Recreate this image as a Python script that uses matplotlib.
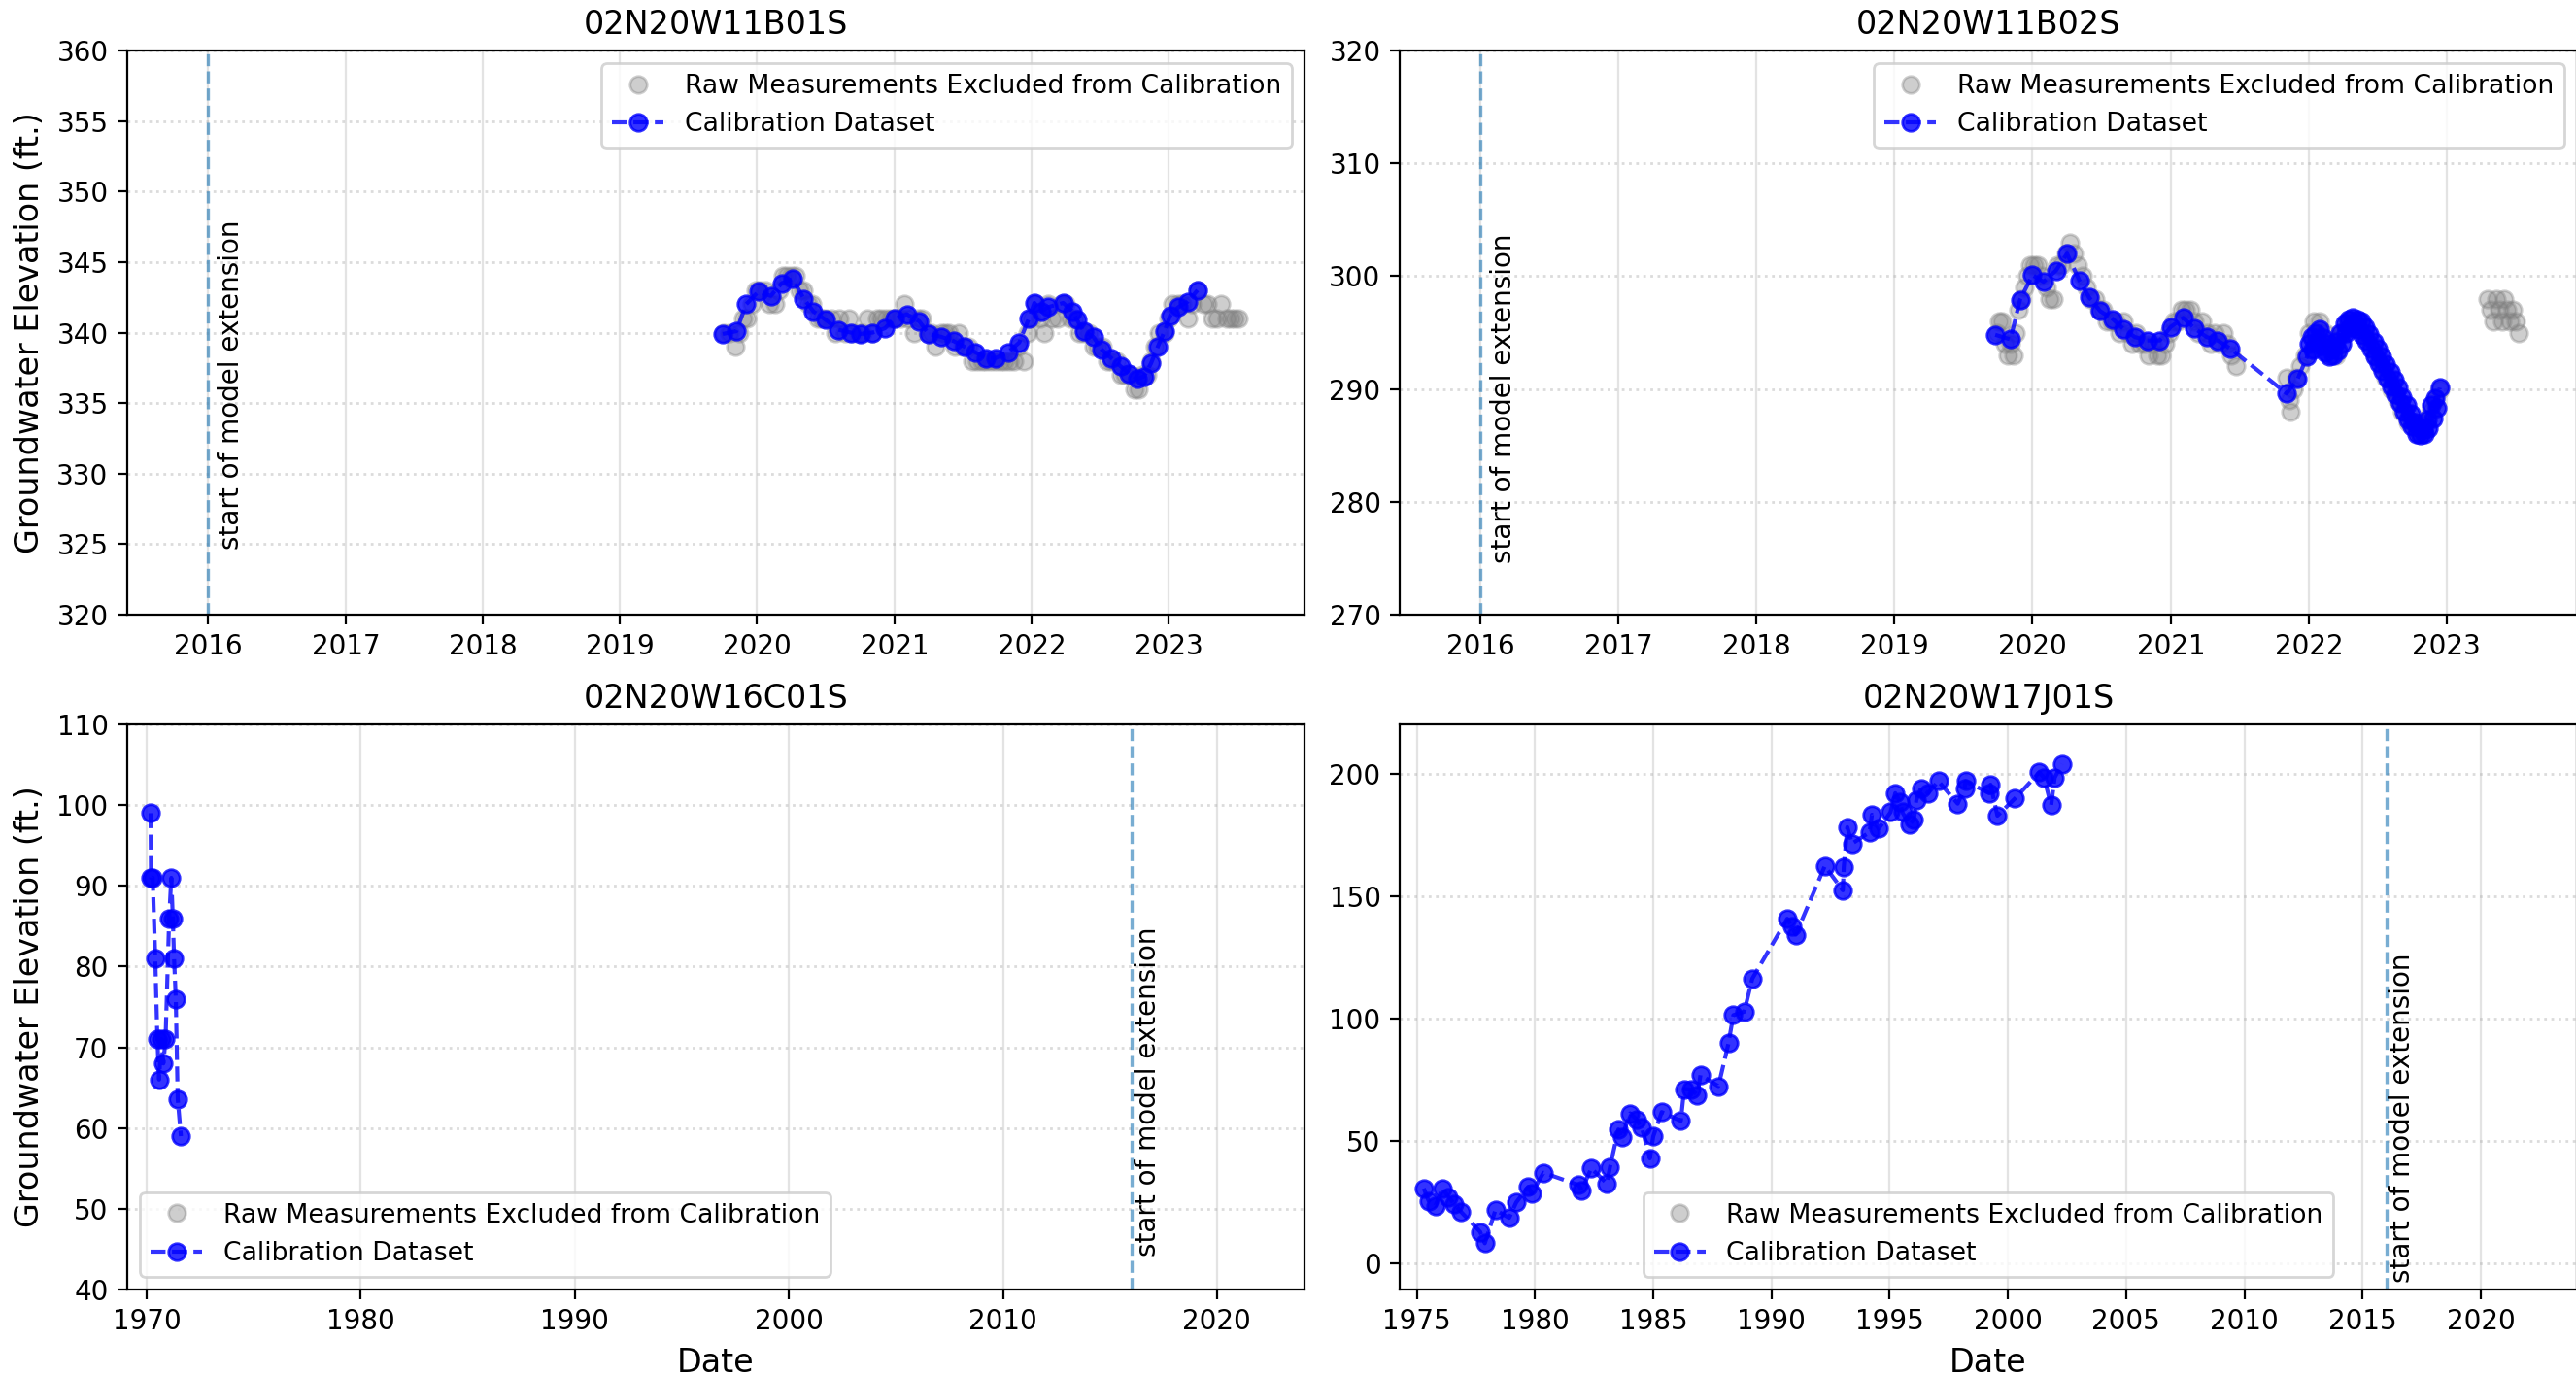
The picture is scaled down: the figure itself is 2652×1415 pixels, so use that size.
import matplotlib
matplotlib.use("Agg")
import matplotlib.pyplot as plt
import matplotlib.dates as mdates
from datetime import datetime, timedelta

# ---------------- data (decimal years / feet) ----------------
titles = ["02N20W11B01S", "02N20W11B02S", "02N20W16C01S", "02N20W17J01S"]
model_start = 2016.0

# 02N20W11B01S
b01_cal_t = [2019.75, 2019.85, 2019.92, 2020.01, 2020.10, 2020.18, 2020.26, 2020.34, 2020.41, 2020.50,
             2020.59, 2020.68, 2020.75, 2020.84, 2020.93, 2021.00, 2021.09, 2021.18, 2021.25, 2021.34,
             2021.43, 2021.51, 2021.59, 2021.67, 2021.74, 2021.83, 2021.91, 2021.98, 2022.02, 2022.07,
             2022.12, 2022.23, 2022.30, 2022.33, 2022.38, 2022.45, 2022.51, 2022.58, 2022.65, 2022.71,
             2022.77, 2022.82, 2022.87, 2022.92, 2022.97, 2023.01, 2023.07, 2023.14, 2023.21]
b01_cal_v = [339.9, 340.1, 342.0, 342.9, 342.6, 343.5, 343.8, 342.4, 341.5, 340.9,
             340.2, 340.0, 339.9, 340.0, 340.3, 341.0, 341.3, 340.8, 339.9, 339.7,
             339.4, 339.0, 338.6, 338.2, 338.2, 338.6, 339.3, 341.0, 342.1, 341.5,
             341.8, 342.1, 341.5, 340.9, 340.1, 339.7, 338.8, 338.2, 337.6, 337.1,
             336.7, 336.9, 337.8, 339.0, 340.1, 341.2, 341.8, 342.2, 343.0]
b01_raw_t = [2019.76, 2019.80, 2019.84, 2019.87, 2019.90, 2019.93, 2019.96, 2019.99, 2020.02, 2020.06,
             2020.09, 2020.13, 2020.16, 2020.19, 2020.22, 2020.25, 2020.28, 2020.31, 2020.34, 2020.37,
             2020.40, 2020.44, 2020.47, 2020.50, 2020.54, 2020.57, 2020.60, 2020.64, 2020.67, 2020.70,
             2020.74, 2020.77, 2020.80, 2020.84, 2020.87, 2020.90, 2020.94, 2020.97, 2021.00, 2021.04,
             2021.07, 2021.10, 2021.14, 2021.17, 2021.20, 2021.24, 2021.27, 2021.30, 2021.34, 2021.37,
             2021.40, 2021.44, 2021.47, 2021.50, 2021.54, 2021.57, 2021.60, 2021.64, 2021.67, 2021.70,
             2021.74, 2021.77, 2021.80, 2021.84, 2021.87, 2021.90, 2021.94, 2021.97, 2022.00, 2022.03,
             2022.06, 2022.09, 2022.12, 2022.15, 2022.19, 2022.22, 2022.25, 2022.28, 2022.31, 2022.35,
             2022.38, 2022.42, 2022.45, 2022.48, 2022.52, 2022.55, 2022.58, 2022.62, 2022.65, 2022.68,
             2022.72, 2022.75, 2022.78, 2022.81, 2022.84, 2022.87, 2022.90, 2022.93, 2022.97, 2023.00,
             2023.03, 2023.07, 2023.10, 2023.14, 2023.17, 2023.21, 2023.25, 2023.28, 2023.32, 2023.35,
             2023.38, 2023.42, 2023.45, 2023.48, 2023.51]
b01_raw_v = [340, 340, 339, 340, 341, 341, 342, 343, 343, 343,
             342, 342, 343, 344, 344, 344, 344, 343, 343, 342,
             342, 341, 341, 341, 341, 340, 341, 340, 341, 340,
             340, 340, 341, 340, 341, 341, 341, 341, 341, 341,
             342, 341, 340, 341, 341, 340, 340, 339, 340, 340,
             340, 339, 340, 339, 339, 338, 338, 338, 338, 338,
             338, 338, 338, 338, 338, 339, 338, 340, 341, 342,
             341, 340, 342, 341, 341, 342, 342, 341, 341, 340,
             340, 340, 339, 339, 339, 338, 338, 338, 337, 337,
             337, 336, 336, 337, 337, 338, 339, 340, 340, 341,
             342, 342, 342, 341, 342, 343, 342, 342, 341, 341,
             342, 341, 341, 341, 341]

# 02N20W11B02S
b02_cal_t = [2019.73, 2019.84, 2019.91, 2020.00, 2020.08, 2020.17, 2020.25, 2020.34, 2020.41, 2020.49,
             2020.58, 2020.66, 2020.74, 2020.83, 2020.92, 2021.00, 2021.09, 2021.17, 2021.26, 2021.34,
             2021.43, 2021.84, 2021.92, 2021.99, 2022.00, 2022.02, 2022.03, 2022.05, 2022.06, 2022.08,
             2022.09, 2022.11, 2022.12, 2022.14, 2022.15, 2022.17, 2022.18, 2022.20, 2022.21, 2022.23,
             2022.24, 2022.26, 2022.27, 2022.29, 2022.30, 2022.32, 2022.33, 2022.35, 2022.36, 2022.38,
             2022.39, 2022.41, 2022.42, 2022.44, 2022.45, 2022.47, 2022.48, 2022.50, 2022.51, 2022.53,
             2022.54, 2022.56, 2022.57, 2022.59, 2022.60, 2022.62, 2022.63, 2022.65, 2022.66, 2022.68,
             2022.69, 2022.71, 2022.72, 2022.74, 2022.75, 2022.77, 2022.78, 2022.80, 2022.81, 2022.83,
             2022.84, 2022.86, 2022.87, 2022.89, 2022.90, 2022.92, 2022.93, 2022.95]
b02_cal_v = [294.8, 294.4, 297.9, 300.1, 299.5, 300.5, 302.0, 299.6, 298.1, 296.9,
             296.2, 295.3, 294.6, 294.3, 294.3, 295.5, 296.3, 295.4, 294.6, 294.3,
             293.6, 289.6, 290.9, 292.9, 294.0, 294.6, 293.5, 295.0, 294.2, 295.3,
             293.8, 294.5, 293.2, 294.0, 292.9, 293.6, 293.0, 294.2, 293.4, 295.0,
             294.0, 295.8, 295.0, 296.2, 295.4, 296.3, 295.6, 296.2, 295.3, 296.0,
             294.8, 295.5, 294.3, 294.9, 293.6, 294.2, 292.9, 293.6, 292.3, 292.9,
             291.6, 292.2, 290.9, 291.5, 290.2, 290.8, 289.5, 290.1, 288.8, 289.3,
             288.0, 288.6, 287.3, 287.8, 286.7, 287.0, 286.0, 286.6, 285.9, 286.4,
             286.0, 287.3, 286.5, 288.6, 287.4, 289.2, 288.3, 290.1]
b02_raw_t = [2019.74, 2019.76, 2019.78, 2019.80, 2019.82, 2019.84, 2019.86, 2019.88, 2019.90, 2019.92,
             2019.94, 2019.96, 2019.98, 2020.01, 2020.04, 2020.07, 2020.10, 2020.12, 2020.15, 2020.18,
             2020.21, 2020.24, 2020.27, 2020.30, 2020.33, 2020.36, 2020.39, 2020.42, 2020.45, 2020.48,
             2020.51, 2020.54, 2020.57, 2020.60, 2020.63, 2020.66, 2020.69, 2020.72, 2020.75, 2020.78,
             2020.81, 2020.84, 2020.87, 2020.90, 2020.93, 2020.96, 2020.99, 2021.02, 2021.05, 2021.08,
             2021.11, 2021.14, 2021.17, 2021.20, 2021.23, 2021.26, 2021.29, 2021.32, 2021.35, 2021.38,
             2021.41, 2021.44, 2021.47, 2021.84, 2021.86, 2021.87, 2021.89, 2021.91, 2021.94, 2021.97,
             2022.00, 2022.04, 2022.08, 2022.12, 2022.16, 2022.20, 2022.24, 2022.28, 2022.32, 2022.36,
             2022.40, 2022.44, 2022.48, 2022.52, 2022.56, 2022.60, 2022.64, 2022.68, 2022.72, 2022.76,
             2022.80, 2022.84, 2022.88, 2022.92, 2022.95, 2023.30, 2023.32, 2023.34, 2023.36, 2023.38,
             2023.40, 2023.42, 2023.44, 2023.46, 2023.48, 2023.50, 2023.52]
b02_raw_v = [295, 296, 296, 294, 293, 294, 293, 295, 297, 298,
             299, 300, 301, 301, 301, 300, 299, 298, 298, 301,
             301, 302, 303, 302, 301, 300, 299, 298, 298, 297,
             297, 296, 296, 296, 295, 296, 295, 294, 295, 294,
             294, 293, 294, 293, 293, 294, 295, 296, 296, 297,
             297, 297, 296, 295, 296, 295, 294, 295, 294, 295,
             294, 293, 292, 291, 289, 288, 290, 291, 292, 293,
             295, 296, 296, 295, 294, 293, 295, 296, 296, 296,
             295, 294, 293, 292, 291, 290, 289, 288, 287, 287,
             286, 287, 288, 289, 290, 298, 297, 296, 298, 297,
             296, 298, 297, 296, 297, 296, 295]

# 02N20W16C01S
c01_cal_t = [1970.18, 1970.20, 1970.28, 1970.40, 1970.50, 1970.58, 1970.68, 1970.78, 1970.88, 1971.05,
             1971.15, 1971.22, 1971.28, 1971.36, 1971.45, 1971.60]
c01_cal_v = [99.0, 91.0, 91.0, 81.0, 71.0, 66.0, 71.0, 68.0, 71.0, 86.0,
             91.0, 86.0, 81.0, 76.0, 63.6, 59.0]
c01_raw_t = []
c01_raw_v = []

# 02N20W17J01S
j01_cal_t = [1975.30, 1975.50, 1975.79, 1976.09, 1976.35, 1976.59, 1976.88, 1977.68, 1977.88, 1978.33,
             1978.91, 1979.21, 1979.72, 1979.86, 1980.36, 1981.85, 1981.98, 1982.38, 1983.04, 1983.17,
             1983.53, 1983.67, 1984.03, 1984.29, 1984.52, 1984.86, 1985.00, 1985.36, 1986.17, 1986.31,
             1986.61, 1986.87, 1987.00, 1987.76, 1988.19, 1988.39, 1988.85, 1989.19, 1990.67, 1990.87,
             1991.03, 1992.26, 1993.02, 1993.06, 1993.21, 1993.41, 1994.15, 1994.25, 1994.54, 1995.04,
             1995.24, 1995.44, 1995.54, 1995.83, 1996.03, 1996.13, 1996.33, 1996.63, 1997.06, 1997.88,
             1998.17, 1998.21, 1999.21, 1999.27, 1999.56, 2000.30, 2001.33, 2001.53, 2001.83, 2001.98,
             2002.28]
j01_cal_v = [30.6, 25.6, 23.5, 30.6, 27.1, 24.2, 21.0, 12.9, 8.2, 21.8,
             18.6, 24.9, 31.3, 28.5, 37.0, 32.0, 29.9, 38.8, 32.7, 39.1,
             54.7, 51.4, 61.3, 58.9, 55.4, 42.9, 51.8, 61.8, 58.2, 71.2,
             71.0, 68.8, 76.9, 72.4, 90.1, 101.4, 102.8, 116.3, 140.8, 137.5,
             134.3, 162.3, 152.4, 162.0, 178.2, 171.5, 176.1, 183.3, 177.6, 184.3,
             192.1, 188.5, 184.3, 179.3, 181.4, 189.2, 194.2, 192.1, 197.0, 187.8,
             194.2, 197.0, 192.1, 195.6, 182.9, 189.9, 200.6, 198.4, 187.1, 198.4,
             204.1]
j01_raw_t = []
j01_raw_v = []

raw_label = "Raw Measurements Excluded from Calibration"
cal_label = "Calibration Dataset"
vline_label = "start of model extension"


def to_dt(y):
    yr = int(y)
    start = datetime(yr, 1, 1)
    days = (datetime(yr + 1, 1, 1) - start).days
    return start + timedelta(days=(y - yr) * days)


def dts(lst):
    return [to_dt(v) for v in lst]


# ---------------- figure ----------------
DPI = 200
fig = plt.figure(figsize=(2652 / DPI, 1415 / DPI), dpi=DPI)
plt.rcParams["font.family"] = ["DejaVu Sans"]

W, H = 2652.0, 1415.0
axw = 1212 / W
positions = [
    (131 / W, 1 - 633 / H, axw, 581 / H),
    (1441 / W, 1 - 633 / H, axw, 581 / H),
    (131 / W, 1 - 1328 / H, axw, 582 / H),
    (1441 / W, 1 - 1328 / H, axw, 582 / H),
]

panels = [
    dict(raw=(b01_raw_t, b01_raw_v), cal=(b01_cal_t, b01_cal_v), xlim=(2015.41, 2023.99), ylim=(320, 360),
         yticks=[320, 325, 330, 335, 340, 345, 350, 355, 360], loc="upper right", ystep=1,
         txt_y=324.6, txt_dx=3.4),
    dict(raw=(b02_raw_t, b02_raw_v), cal=(b02_cal_t, b02_cal_v), xlim=(2015.415, 2023.945), ylim=(270, 320),
         yticks=[270, 280, 290, 300, 310, 320], loc="upper right", ystep=1,
         txt_y=274.6, txt_dx=3.4),
    dict(raw=(c01_raw_t, c01_raw_v), cal=(c01_cal_t, c01_cal_v), xlim=(1969.09, 2024.09), ylim=(40, 110),
         yticks=[40, 50, 60, 70, 80, 90, 100, 110], loc="lower left", ystep=10,
         txt_y=44.1, txt_dx=1.2),
    dict(raw=(j01_raw_t, j01_raw_v), cal=(j01_cal_t, j01_cal_v), xlim=(1974.28, 2024.07), ylim=(-10.7, 220.2),
         yticks=[0, 50, 100, 150, 200], loc="lower center", ystep=5,
         txt_y=-7.9, txt_dx=0.9),
]

for i, (p, pos, title) in enumerate(zip(panels, positions, titles)):
    ax = fig.add_axes(pos)
    rt, rv = p["raw"]
    ct, cv = p["cal"]
    ax.plot(dts(rt), rv, linestyle="none", marker="o", markersize=6.3, color="grey", alpha=0.38,
            label=raw_label)
    ax.plot(dts(ct), cv, linestyle="--", marker="o", markersize=6.3, color="blue", alpha=0.8,
            linewidth=1.5, label=cal_label)
    ax.axvline(to_dt(model_start), color="tab:blue", linestyle="--", alpha=0.6, linewidth=1.2)
    ax.annotate(vline_label, xy=(to_dt(model_start), p["txt_y"]), xytext=(p["txt_dx"], 0),
                textcoords="offset points", rotation=90, ha="left", va="bottom", fontsize=10)
    ax.set_xlim(to_dt(p["xlim"][0]), to_dt(p["xlim"][1]))
    ax.set_ylim(*p["ylim"])
    ax.set_yticks(p["yticks"])
    ax.xaxis.set_major_locator(mdates.YearLocator(p["ystep"]))
    ax.xaxis.set_major_formatter(mdates.DateFormatter("%Y"))
    ax.tick_params(labelsize=10)
    ax.xaxis.grid(True, color="#b0b0b0", alpha=0.35, linewidth=0.8)
    ax.yaxis.grid(True, color="#b0b0b0", alpha=0.45, linestyle=":", linewidth=1.0)
    ax.set_axisbelow(True)
    ax.set_title(title, fontsize=12)
    if i % 2 == 0:
        ax.set_ylabel("Groundwater Elevation (ft.)", fontsize=12)
    if i >= 2:
        ax.set_xlabel("Date", fontsize=12)
    ax.legend(loc=p["loc"], fontsize=9.6)

fig.savefig("out.png", dpi=DPI)
